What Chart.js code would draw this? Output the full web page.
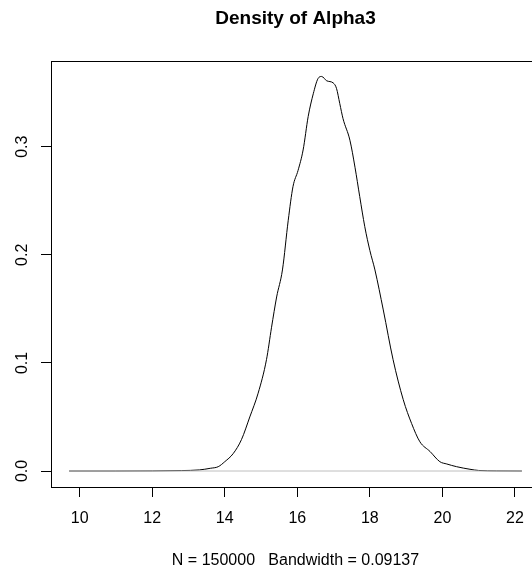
<!DOCTYPE html>
<html>
<head>
<meta charset="utf-8">
<script src="https://cdn.jsdelivr.net/npm/chart.js@4"></script>
<style>
  html, body { margin: 0; padding: 0; background: #fff; overflow: hidden; }
  #wrap { width: 560px; height: 573px; }
</style>
</head>
<body>
<div id="wrap"><canvas id="densityChart" width="560" height="573"></canvas></div>
<script>
// Density estimate
const densX = [9.71, 11.0, 12.0, 12.8, 13.3, 13.6, 13.82, 14.0, 14.23, 14.46, 14.69, 14.92, 15.15, 15.29,
    15.43, 15.59, 15.75, 15.88, 16.02, 16.16, 16.30, 16.44, 16.57, 16.67, 16.81, 16.99, 17.08, 17.17,
    17.26, 17.45, 17.59, 17.72, 17.86, 18.0, 18.14, 18.37, 18.64, 18.92, 19.15, 19.38, 19.66, 19.93,
    20.12, 20.39, 20.76, 21.0, 21.5, 22.19];
const densY = [0, 0, 0.0001, 0.0004, 0.001, 0.0025, 0.004, 0.0086, 0.016, 0.029, 0.050, 0.072, 0.103, 0.133,
    0.161, 0.186, 0.232, 0.263, 0.278, 0.297, 0.328, 0.349, 0.363, 0.365, 0.361, 0.359, 0.354, 0.340,
    0.326, 0.306, 0.281, 0.254, 0.226, 0.204, 0.186, 0.149, 0.103, 0.066, 0.044, 0.027, 0.018, 0.0086,
    0.0065, 0.004, 0.0016, 0.0005, 0.0001, 0];

// zero reference line
const zeroLineX = [9.71, 22.19];
const zeroLineY = [0, 0];

// axis ticks
const xTickValues = [10, 12, 14, 16, 18, 20, 22];
const yTickValues = [0, 0.1, 0.2, 0.3];

const chartTitle = 'Density of Alpha3';
const xLabel = 'N = 150000   Bandwidth = 0.09137';

const FONT = '"Liberation Sans", Arial, Helvetica, sans-serif';

// box around plot + titles, R style
const rFrame = {
    id: 'rFrame',
    afterDraw(chart) {
        const ctx = chart.ctx;
        const a = chart.chartArea;
        ctx.save();
        ctx.strokeStyle = '#000';
        ctx.lineWidth = 1;
        ctx.strokeRect(Math.round(a.left) + 0.5, Math.round(a.top) + 0.5,
            Math.round(a.right - a.left), Math.round(a.bottom - a.top));
        const cx = (a.left + a.right) / 2;
        ctx.fillStyle = '#000';
        ctx.textAlign = 'center';
        ctx.textBaseline = 'alphabetic';
        ctx.font = 'bold 19px ' + FONT;
        ctx.fillText(chartTitle, cx, 23.5);
        ctx.font = '16px ' + FONT;
        ctx.fillText(xLabel, cx, 564.5);
        ctx.restore();
    }
};

const ctx = document.getElementById('densityChart').getContext('2d');
new Chart(ctx, {
    type: 'line',
    data: {
        datasets: [{
            label: 'density',
            data: densX.map((x, i) => ({ x: x, y: densY[i] })),
            borderColor: '#000',
            borderWidth: 1,
            pointRadius: 0,
            cubicInterpolationMode: 'monotone',
            fill: false,
            order: 2
        }, {
            label: 'zero',
            data: zeroLineX.map((x, i) => ({ x: x, y: zeroLineY[i] })),
            borderColor: '#bebebe',
            borderWidth: 1,
            pointRadius: 0,
            fill: false,
            order: 1
        }]
    },
    options: {
        responsive: false,
        animation: false,
        devicePixelRatio: 1,
        layout: { padding: { top: 61, right: 20, left: 0, bottom: 0 } },
        plugins: {
            legend: { display: false },
            title: { display: false },
            tooltip: { enabled: false }
        },
        scales: {
            x: {
                type: 'linear',
                min: 9.21,
                max: 22.69,
                afterFit(scale) { scale.height = 86; },
                afterBuildTicks(scale) { scale.ticks = xTickValues.map(v => ({ value: v })); },
                border: { display: false },
                grid: { drawOnChartArea: false, drawTicks: true, tickLength: 10, color: '#000' },
                ticks: {
                    color: '#000',
                    padding: 12,
                    maxRotation: 0,
                    autoSkip: false,
                    font: { family: FONT, size: 16 },
                    callback: v => String(v)
                }
            },
            y: {
                type: 'linear',
                min: -0.0148,
                max: 0.3793,
                afterFit(scale) { scale.width = 51; },
                afterBuildTicks(scale) { scale.ticks = yTickValues.map(v => ({ value: v })); },
                border: { display: false },
                grid: { drawOnChartArea: false, drawTicks: true, tickLength: 10, color: '#000' },
                ticks: {
                    color: '#000',
                    padding: 7,
                    minRotation: 90,
                    maxRotation: 90,
                    crossAlign: 'center',
                    autoSkip: false,
                    font: { family: FONT, size: 16 },
                    callback: v => Number(v).toFixed(1)
                }
            }
        }
    },
    plugins: [rFrame]
});
</script>
</body>
</html>
